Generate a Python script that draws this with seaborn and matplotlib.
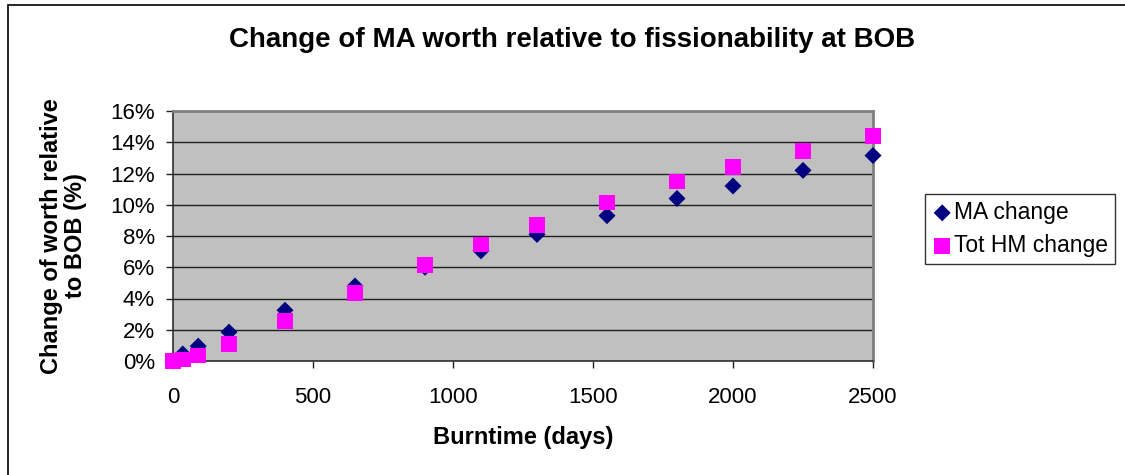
import matplotlib
matplotlib.use("Agg")
import matplotlib.pyplot as plt
import seaborn as sns
import pandas as pd
from matplotlib.patches import Rectangle
from matplotlib.ticker import FuncFormatter

# Burnup time points (days) and relative change of worth (%)
days = [0, 35, 90, 200, 400, 650, 900, 1100, 1300, 1550, 1800, 2000, 2250, 2500]
ma_change = [0.0, 0.45, 0.95, 1.85, 3.25, 4.8, 6.0, 7.05, 8.1, 9.3, 10.4, 11.2, 12.2, 13.15]
tot_hm_change = [0.0, 0.1, 0.35, 1.1, 2.55, 4.35, 6.15, 7.45, 8.7, 10.15, 11.5, 12.4, 13.45, 14.4]

y_ticks = [0, 2, 4, 6, 8, 10, 12, 14, 16]
x_ticks = [0, 500, 1000, 1500, 2000, 2500]

df = pd.DataFrame({"days": days, "ma": ma_change, "tot": tot_hm_change})

sns.set_style("white")
plt.rcParams["font.family"] = ["Liberation Sans", "DejaVu Sans"]
plt.rcParams["text.color"] = "black"
plt.rcParams["axes.labelcolor"] = "black"
plt.rcParams["xtick.color"] = "black"
plt.rcParams["ytick.color"] = "black"

fig = plt.figure(figsize=(11.25, 4.75), dpi=100)
ax = fig.add_axes([173 / 1125, 1 - 361 / 475, 700 / 1125, 250 / 475])
ax.set_facecolor("#C0C0C0")

sns.scatterplot(data=df, x="days", y="ma", ax=ax, marker="D", s=75,
                color="#000080", edgecolor="none", label="MA change",
                clip_on=False, zorder=3)
sns.scatterplot(data=df, x="days", y="tot", ax=ax, marker="s", s=125,
                color="#FF00FF", edgecolor="none", label="Tot HM change",
                clip_on=False, zorder=4)

ax.set_xlim(0, 2500)
ax.set_ylim(0, 16)
ax.set_xticks(x_ticks)
ax.set_yticks(y_ticks)
ax.yaxis.set_major_formatter(FuncFormatter(lambda v, _: f"{v:.0f}%"))
ax.grid(axis="y", color="#202020", linewidth=1.0)
ax.grid(axis="x", visible=False)
ax.set_axisbelow(True)

ax.tick_params(axis="both", which="major", direction="out", length=5,
               width=1, color="#202020", labelsize=16,
               left=True, bottom=True, labelcolor="black")
ax.tick_params(axis="x", pad=14)
ax.tick_params(axis="y", pad=8)
for side in ("left", "bottom"):
    ax.spines[side].set_color("#303030")
    ax.spines[side].set_linewidth(1.2)
for side in ("top", "right"):
    ax.spines[side].set_visible(True)
    ax.spines[side].set_color("#808080")
    ax.spines[side].set_linewidth(2)

ax.set_xlabel("Burntime (days)", fontsize=17, fontweight="bold", labelpad=13)
ax.set_ylabel("Change of worth relative\nto BOB (%)", fontsize=17,
              fontweight="bold", labelpad=17, linespacing=1.05)

fig.text(572 / 1125, 1 - 40 / 475, "Change of MA worth relative to fissionability at BOB",
         ha="center", va="center", fontsize=20, fontweight="bold")

leg = ax.legend(loc="upper left", bbox_to_anchor=(925 / 1125, 1 - 194 / 475),
                bbox_transform=fig.transFigure, fontsize=16.5, frameon=True,
                fancybox=False, edgecolor="black", handletextpad=0.05,
                handlelength=0.9, borderpad=0.3, labelspacing=0.45,
                borderaxespad=0)
leg.get_frame().set_linewidth(1.0)

# Outer chart border
fig.patches.append(Rectangle((8 / 1125, -0.1), 1.2, 1 - 4.5 / 475 + 0.1,
                             transform=fig.transFigure, fill=False,
                             edgecolor="black", linewidth=1.2))

fig.savefig("out.png", dpi=100)
